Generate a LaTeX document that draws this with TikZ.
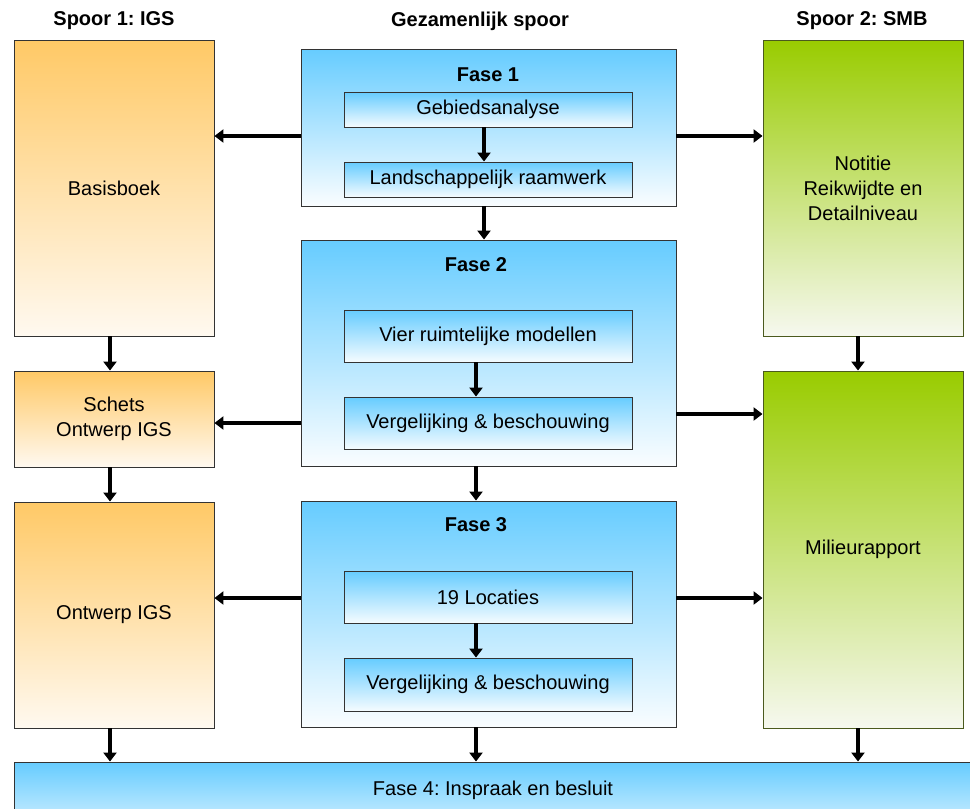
\documentclass[tikz,border=0pt]{standalone}
\usepackage{fontspec}
\setmainfont{Liberation Sans}
\usetikzlibrary{arrows.meta}
\frenchspacing
\definecolor{orTop}{HTML}{FFC966}
\definecolor{orBot}{HTML}{FFF9F0}
\definecolor{blTop}{HTML}{66CCFF}
\definecolor{blBot}{HTML}{FAFDFF}
\definecolor{gnTop}{HTML}{99CC00}
\definecolor{gnBot}{HTML}{F6F8EF}
\definecolor{gnLine}{HTML}{4B5A1E}
\definecolor{boxLine}{HTML}{333333}
\tikzset{
  base/.style={rectangle, inner sep=0pt, line width=0.9pt, font=\fontsize{20}{25}\selectfont, align=center},
  orbox/.style={base, draw=boxLine, top color=orTop, bottom color=orBot},
  blbox/.style={base, draw=boxLine, top color=blTop, bottom color=blBot},
  inbox/.style={base, draw=boxLine, top color=blTop, bottom color=blBot!80!blTop!30},
  gnbox/.style={base, draw=gnLine, top color=gnTop, bottom color=gnBot},
  head/.style={font=\fontsize{20}{24}\selectfont\bfseries, inner sep=0pt},
  lbl/.style={font=\fontsize{20}{25}\selectfont, inner sep=0pt, align=center},
  arr/.style={line width=3.6pt, -{Triangle[length=9pt,width=13pt]}}
}
\begin{document}
\begin{tikzpicture}[x=1pt,y=-1pt]
\useasboundingbox (0,0) rectangle (970,809);
\clip (0,0) rectangle (970,809);
% headers
\node[head] (h1) at (114,21) {Spoor 1: IGS};
\node[head] (h2) at (480,21) {Gezamenlijk spoor};
\node[head] (h3) at (862,21) {Spoor 2: SMB};
% left column
\node[orbox, minimum width=200pt, minimum height=296pt] (basis) at (114,188) {Basisboek};
\node[orbox, minimum width=200pt, minimum height=96pt] (schets) at (114,419) {Schets\\Ontwerp IGS};
\node[orbox, minimum width=200pt, minimum height=226pt] (ontwerp) at (114,615) {Ontwerp IGS};
% middle column
\node[blbox, minimum width=375pt, minimum height=157pt] (f1) at (488.5,127.5) {};
\node[head] (f1t) at (488,75) {Fase 1};
\node[inbox, minimum width=288pt, minimum height=35pt] (gebied) at (488,109.5) {Gebiedsanalyse};
\node[inbox, minimum width=288pt, minimum height=35pt] (land) at (488,179.5) {Landschappelijk raamwerk};
\node[blbox, minimum width=375pt, minimum height=226pt] (f2) at (488.5,353) {};
\node[head] (f2t) at (476,265) {Fase 2};
\node[inbox, minimum width=288pt, minimum height=52pt] (vier) at (488,336) {Vier ruimtelijke modellen};
\node[inbox, minimum width=288pt, minimum height=52pt] (verg1) at (488,423) {Vergelijking \& beschouwing};
\node[blbox, minimum width=375pt, minimum height=226pt] (f3) at (488.5,614) {};
\node[head] (f3t) at (476,525) {Fase 3};
\node[inbox, minimum width=288pt, minimum height=52pt] (loc) at (488,597) {19 Locaties};
\node[inbox, minimum width=288pt, minimum height=53pt] (verg2) at (488,684.5) {Vergelijking \& beschouwing};
% right column
\node[gnbox, minimum width=200pt, minimum height=296pt] (notitie) at (863,188) {Notitie\\Reikwijdte en\\Detailniveau};
\node[gnbox, minimum width=200pt, minimum height=357pt] (milieu) at (863,549.5) {Milieurapport};
% bottom bar
\node[base, draw=boxLine, top color=blTop, bottom color=blBot, minimum width=970pt, minimum height=90pt] (bar) at (499,807) {};
\node[lbl] (bart) at (493,790) {Fase 4: Inspraak en besluit};
% horizontal arrows
\coordinate (a1) at ([yshift=-8.5pt]f1.west);
\coordinate (a2) at ([yshift=-8.5pt]f1.east);
\draw[arr] (a1) -- (a1 -| basis.east);
\draw[arr] (a2) -- (a2 -| notitie.west);
\coordinate (a3) at ([yshift=-70pt]f2.west);
\coordinate (a4) at ([yshift=-61pt]f2.east);
\draw[arr] (a3) -- (a3 -| schets.east);
\draw[arr] (a4) -- (a4 -| milieu.west);
\coordinate (a5) at ([yshift=16pt]f3.west);
\coordinate (a6) at ([yshift=16pt]f3.east);
\draw[arr] (a5) -- (a5 -| ontwerp.east);
\draw[arr] (a6) -- (a6 -| milieu.west);
% vertical arrows left
\draw[arr] ([xshift=-4pt]basis.south) -- ([xshift=-4pt]schets.north);
\draw[arr] ([xshift=-4pt]schets.south) -- ([xshift=-4pt]ontwerp.north);
\coordinate (v1) at ([xshift=-4pt]ontwerp.south);
\draw[arr] (v1) -- (v1 |- bar.north);
% vertical arrows middle
\draw[arr] ([xshift=-4pt]gebied.south) -- ([xshift=-4pt]land.north);
\draw[arr] ([xshift=-4.5pt]f1.south) -- ([xshift=-4.5pt]f2.north);
\draw[arr] ([xshift=-12pt]vier.south) -- ([xshift=-12pt]verg1.north);
\draw[arr] ([xshift=-12.5pt]f2.south) -- ([xshift=-12.5pt]f3.north);
\draw[arr] ([xshift=-12pt]loc.south) -- ([xshift=-12pt]verg2.north);
\coordinate (v2) at ([xshift=-12.5pt]f3.south);
\draw[arr] (v2) -- (v2 |- bar.north);
% vertical arrows right
\draw[arr] ([xshift=-5pt]notitie.south) -- ([xshift=-5pt]milieu.north);
\coordinate (v3) at ([xshift=-5pt]milieu.south);
\draw[arr] (v3) -- (v3 |- bar.north);
\end{tikzpicture}
\end{document}
